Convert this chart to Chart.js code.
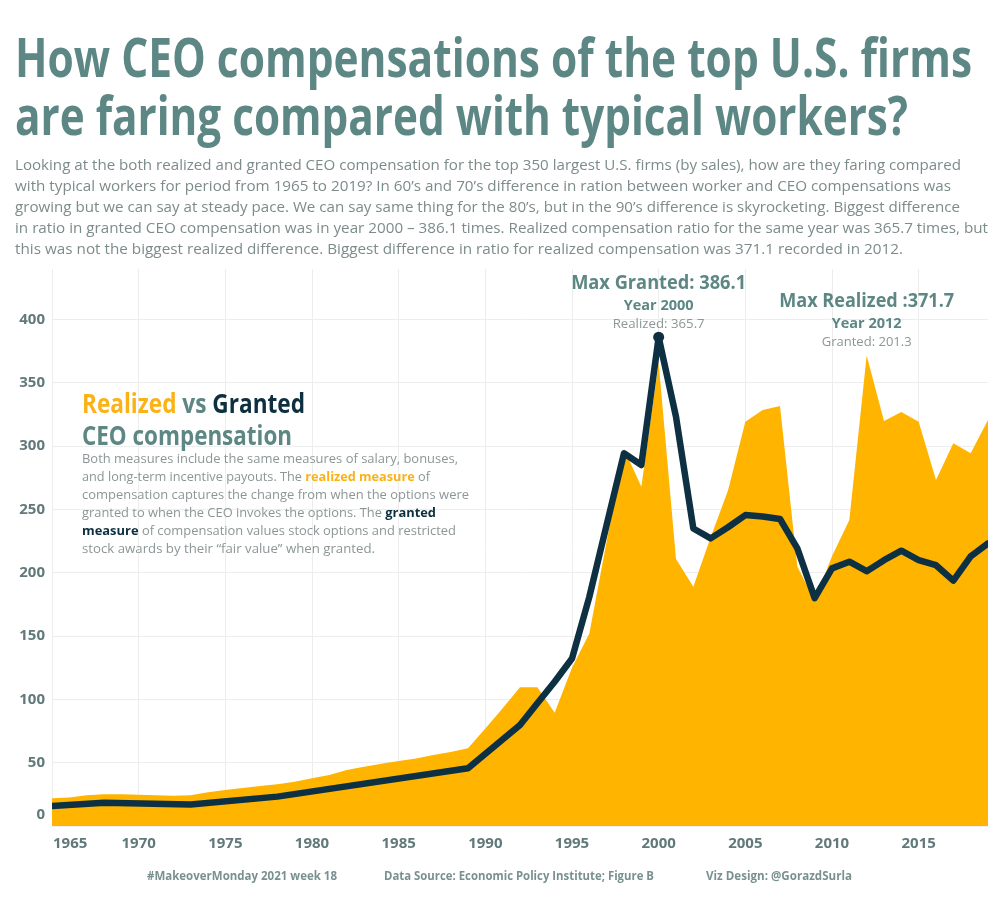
<!DOCTYPE html>
<html lang="en">
<head>
<meta charset="UTF-8">
<title>CEO compensation vs typical workers</title>
<style>
  body{margin:0;background:#fff;font-family:"Open Sans",sans-serif;}
  #wrap{position:relative;width:1000px;height:900px;overflow:hidden;}
  #chart-container{position:absolute;left:0;top:0;width:1000px;height:900px;}
  .ln{position:absolute;white-space:nowrap;display:inline-block;transform-origin:0 50%;}
  .title{font-size:54px;font-weight:700;line-height:58px;color:#5d8784;}
  .desc{font-size:15px;line-height:21px;color:#7d8b8b;}
  .head{font-size:26px;font-weight:700;line-height:30px;color:#5d8784;}
  .body{font-size:13px;line-height:18px;color:#8c9696;}
  .foot{font-size:12px;font-weight:700;line-height:16px;color:#7a9090;}
</style>
</head>
<body>
<div id="wrap">
  <div id="chart-container"><canvas id="line-chart"></canvas></div>

  <div class="ln title" style="left:15px;top:27px" data-w="957">How CEO compensations of the top U.S. firms</div>
  <div class="ln title" style="left:15px;top:85px" data-w="893">are faring compared with typical workers?</div>

  <div class="ln desc" style="left:15px;top:154px" data-w="946">Looking at the both realized and granted CEO compensation for the top 350 largest U.S. firms (by sales), how are they faring compared</div>
  <div class="ln desc" style="left:15px;top:175px" data-w="936">with typical workers for period from 1965 to 2019? In 60’s and 70’s difference in ration between worker and CEO compensations was</div>
  <div class="ln desc" style="left:15px;top:196px" data-w="945">growing but we can say at steady pace. We can say same thing for the 80’s, but in the 90’s difference is skyrocketing. Biggest difference</div>
  <div class="ln desc" style="left:15px;top:217px" data-w="973">in ratio in granted CEO compensation was in year 2000 – 386.1 times. Realized compensation ratio for the same year was 365.7 times, but</div>
  <div class="ln desc" style="left:15px;top:238px" data-w="888">this was not the biggest realized difference. Biggest difference in ratio for realized compensation was 371.1 recorded in 2012.</div>

  <div class="ln head" style="left:82px;top:388px" data-w="223"><span style="color:#fbb216">Realized</span> vs <span style="color:#0d2f40">Granted</span></div>
  <div class="ln head" style="left:82px;top:420px" data-w="210">CEO compensation</div>
  <div class="ln body" style="left:82px;top:449px" data-w="376">Both measures include the same measures of salary, bonuses,</div>
  <div class="ln body" style="left:82px;top:467px" data-w="348">and long-term incentive payouts. The <b style="color:#fbb216">realized measure</b> of</div>
  <div class="ln body" style="left:82px;top:485px" data-w="387">compensation captures the change from when the options were</div>
  <div class="ln body" style="left:82px;top:503px" data-w="354">granted to when the CEO invokes the options. The <b style="color:#0d2f40">granted</b></div>
  <div class="ln body" style="left:82px;top:521px" data-w="374"><b style="color:#0d2f40">measure</b> of compensation values stock options and restricted</div>
  <div class="ln body" style="left:82px;top:539px" data-w="293">stock awards by their “fair value” when granted.</div>

  <div class="ln foot" style="left:147px;top:868px" data-w="190">#MakeoverMonday 2021 week 18</div>
  <div class="ln foot" style="left:384px;top:868px" data-w="270">Data Source: Economic Policy Institute; Figure B</div>
  <div class="ln foot" style="left:706px;top:868px" data-w="146">Viz Design: @GorazdSurla</div>
</div>

<script src="https://cdn.jsdelivr.net/npm/chart.js"></script>
<script>
// CEO-to-worker compensation ratio
const realizedYears = [1965,1966,1967,1968,1969,1970,1971,1972,1973,1974,1975,1976,1977,1978,1979,1980,1981,1982,1983,1984,1985,1986,1987,1988,1989,1990,1991,1992,1993,1994,1995,1996,1997,1998,1999,2000,2001,2002,2003,2004,2005,2006,2007,2008,2009,2010,2011,2012,2013,2014,2015,2016,2017,2018,2019]
const realizedValues = [21.9,22.5,24.2,25,25,24.7,24.2,23.9,24.2,26.6,28.4,30,31.6,32.9,35,37.7,40.3,44.2,46.8,49.2,51.3,53.4,56,58.4,61.4,77,93,109.6,109.6,89.5,125,152,225,298,268,365.7,211,189,228,265,319.4,328.6,331.8,205,178,213,241.7,371.7,320,327,319.4,273.3,302.3,294.4,320.7]

const grantedYears = [1965,1968,1973,1978,1989,1992,1993,1994,1995,1996,1997,1998,1999,2000,2001,2002,2003,2004,2005,2006,2007,2008,2009,2010,2011,2012,2013,2014,2015,2016,2017,2018,2019]
const grantedValues = [15.8,18.4,16.9,23.2,45.6,79.8,97,114,132.3,181,238,294.4,285.2,386.1,323.3,235,227.2,236,245.6,244.5,242.5,219.3,180,203.5,208.8,201.3,210,217.5,210,206,193.8,213,223.3]

const xTickValues = [1965,1970,1975,1980,1985,1990,1995,2000,2005,2010,2015]
const yTickValues = [0,50,100,150,200,250,300,350,400]

const notes = [
  {series:'granted', year:2000, lines:['Max Granted: 386.1','Year 2000','Realized: 365.7']},
  {series:'realized', year:2012, lines:['Max Realized :371.7','Year 2012','Granted: 201.3']}
]

const realizedColor = '#ffb400'
const grantedColor = '#0d3142'
const gridColor = '#ededed'
const axisColor = '#61797a'
const axisFont = 'bold 15px "Open Sans"'

// squeeze html text lines to the widths of the original
document.querySelectorAll('[data-w]').forEach(el=>{
  const w = el.getBoundingClientRect().width
  el.style.transform = 'scaleX(' + (el.dataset.w / w) + ')'
})

function fitText(c, text, cx, y, w, font, color){
  c.save()
  c.font = font
  c.fillStyle = color
  c.textAlign = 'center'
  c.textBaseline = 'alphabetic'
  const m = c.measureText(text).width
  c.translate(cx, y)
  c.scale(w / m, 1)
  c.fillText(text, 0, 0)
  c.restore()
}

const notePlugin = {
  id:'notes',
  afterDatasetsDraw(chart){
    const c = chart.ctx
    const xs = chart.scales.x, ys = chart.scales.y
    notes.forEach(n=>{
      const vals = n.series=='granted' ? grantedValues : realizedValues
      const yrs = n.series=='granted' ? grantedYears : realizedYears
      const v = vals[yrs.indexOf(n.year)]
      const px = xs.getPixelForValue(n.year)
      const py = ys.getPixelForValue(v)
      fitText(c, n.lines[0], px, py-48, 175, 'bold 19px "Open Sans"', '#5d8784')
      fitText(c, n.lines[1], px, py-27, 70, 'bold 14px "Open Sans"', '#5d8784')
      fitText(c, n.lines[2], px, py-9, n.series=='granted'?92:90, '13px "Open Sans"', '#8c9696')
    })
    // edge labels sit inside the axis ends, like the original
    c.save()
    c.font = axisFont
    c.fillStyle = axisColor
    c.textBaseline = 'middle'
    c.textAlign = 'left'
    c.fillText(String(xTickValues[0]), xs.left + 1, xs.top + 18)
    c.textAlign = 'right'
    c.fillText(String(yTickValues[0]), ys.right - 7, ys.bottom - 11)
    c.restore()
  }
}

const toPoints = (xs, ys) => xs.map((x,i)=>({x:x, y:ys[i]}))

const ctx = new Chart(document.getElementById('line-chart'), {
  type:'line',
  data:{datasets:[
    {
      label:'Granted',
      data:toPoints(grantedYears, grantedValues),
      borderColor:grantedColor,
      backgroundColor:grantedColor,
      borderWidth:6.5,
      borderJoinStyle:'round',
      borderCapStyle:'round',
      pointRadius:c => (c.raw && c.raw.x===2000) ? 5.5 : 0,
      pointBackgroundColor:grantedColor,
      pointBorderWidth:0,
      fill:false,
      tension:0,
      order:0
    },
    {
      label:'Realized',
      data:toPoints(realizedYears, realizedValues),
      borderWidth:0,
      borderColor:realizedColor,
      backgroundColor:realizedColor,
      pointRadius:0,
      fill:'origin',
      tension:0,
      order:1
    }
  ]},
  options:{
    responsive:true,
    maintainAspectRatio:false,
    animation:false,
    layout:{padding:{top:269,right:12,bottom:0,left:0}},
    plugins:{legend:{display:false},tooltip:{enabled:false}},
    scales:{
      x:{
        type:'linear',
        min:1965,
        max:2019,
        afterBuildTicks:s=>{s.ticks = xTickValues.map(v=>({value:v}))},
        afterFit:s=>{s.height = 74},
        grid:{color:gridColor, drawTicks:false},
        border:{display:false},
        ticks:{padding:9, color:axisColor, font:{family:'Open Sans', weight:'bold', size:15}, callback:v=>v==xTickValues[0] ? '' : String(v), maxRotation:0}
      },
      y:{
        min:0,
        max:440,
        afterBuildTicks:s=>{s.ticks = yTickValues.map(v=>({value:v}))},
        afterFit:s=>{s.width = 52},
        grid:{color:gridColor, drawTicks:false},
        border:{color:gridColor},
        ticks:{padding:7, color:axisColor, font:{family:'Open Sans', weight:'bold', size:15}, callback:v=>v==yTickValues[0] ? '' : String(v)}
      }
    }
  },
  plugins:[notePlugin]
})
</script>
</body>
</html>
